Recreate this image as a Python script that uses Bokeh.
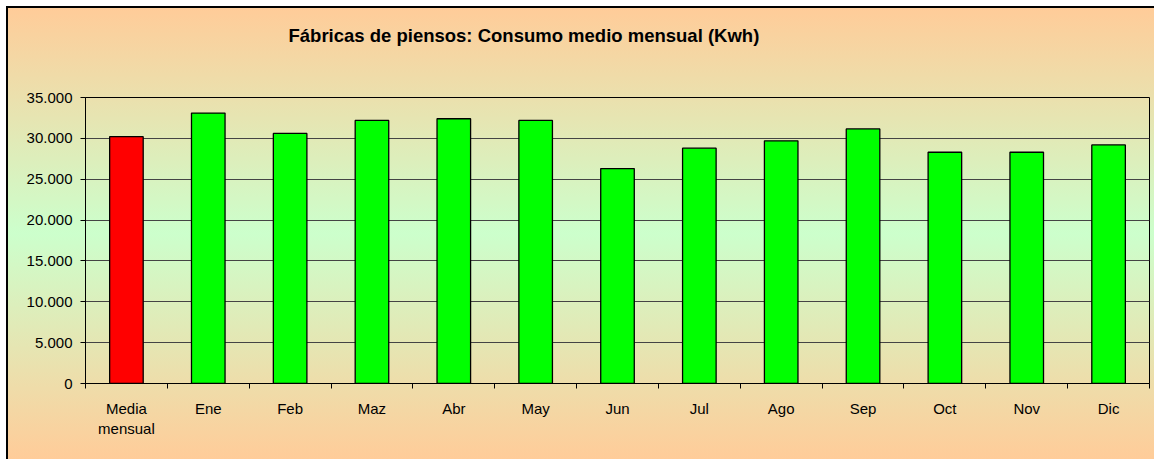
import numpy as np
from bokeh.plotting import figure
from bokeh.models import ColumnDataSource, FixedTicker, Range1d
from bokeh.embed import file_html
from bokeh.resources import INLINE

title_text = "Fábricas de piensos: Consumo medio mensual (Kwh)"
categories = ["Media\nmensual", "Ene", "Feb", "Maz", "Abr", "May", "Jun",
              "Jul", "Ago", "Sep", "Oct", "Nov", "Dic"]
values = [30200, 33100, 30600, 32200, 32400, 32200, 26300,
          28800, 29700, 31150, 28300, 28300, 29200]
bar_colors = ["#FF0000"] + ["#00FF00"] * 12
y_ticks = [0, 5000, 10000, 15000, 20000, 25000, 30000, 35000]
y_tick_labels = ["0", "5.000", "10.000", "15.000", "20.000", "25.000", "30.000", "35.000"]

n = len(categories)
xpos = [i + 0.5 for i in range(n)]
src = ColumnDataSource(dict(x=xpos, top=values, color=bar_colors, cat=categories))

FONT = "Liberation Sans"

p = figure(width=1154, height=459, output_backend="svg", toolbar_location=None,
           x_range=Range1d(0, n), y_range=Range1d(0, 35000),
           min_border_left=85, min_border_right=5, min_border_top=97, min_border_bottom=76,
           title=title_text + "\n \n ")

p.background_fill_color = None
p.border_fill_color = None
p.styles = {
    "background": (
        "linear-gradient(#000000, #000000) 6px 6px / 2px calc(100% - 6px) no-repeat, "
        "linear-gradient(#000000, #000000) 6px 6px / calc(100% - 6px) 2px no-repeat, "
        "linear-gradient(to bottom, #FFCC99 0%, #CCFFCC 50%, #FFCC99 100%) 8px 8px / calc(100% - 8px) calc(100% - 8px) no-repeat, "
        "#FFFFFF"
    ),
}
p.outline_line_color = "#000000"
p.outline_line_width = 1

# title (blank trailing lines lift the visible line towards the top)
p.title.text_font = FONT
p.title.text_font_size = "18.5px"
p.title.text_font_style = "bold"
p.title.text_color = "#000000"
p.title.align = "left"
p.title.offset = 203
p.title.standoff = 20

p.vbar(x="x", top="top", width=0.41, bottom=0, source=src, fill_color="color",
       line_color="#000000", line_width=1.3)

# grid
p.xgrid.visible = False
p.ygrid.ticker = FixedTicker(ticks=y_ticks)
p.ygrid.grid_line_color = "#444444"
p.ygrid.grid_line_width = 1

# y axis
p.yaxis.ticker = FixedTicker(ticks=y_ticks)
p.yaxis.major_label_overrides = {t: l for t, l in zip(y_ticks, y_tick_labels)}
p.yaxis.major_label_text_font = FONT
p.yaxis.major_label_text_font_size = "15px"
p.yaxis.major_label_text_color = "#000000"
p.yaxis.major_tick_out = 5
p.yaxis.major_tick_in = 0
p.yaxis.minor_tick_line_color = None
p.yaxis.axis_line_color = "#000000"
p.yaxis.major_tick_line_color = "#000000"
p.yaxis.major_label_standoff = 8

# x axis: labels at centers, ticks at boundaries
p.xaxis.ticker = FixedTicker(ticks=xpos, minor_ticks=list(range(n + 1)))
p.xaxis.major_label_overrides = {x: c for x, c in zip(xpos, categories)}
p.xaxis.major_label_text_font = FONT
p.xaxis.major_label_text_font_size = "15px"
p.xaxis.major_label_text_color = "#000000"
p.xaxis.major_tick_out = 0
p.xaxis.major_tick_in = 0
p.xaxis.minor_tick_out = 5
p.xaxis.minor_tick_in = 0
p.xaxis.minor_tick_line_color = "#000000"
p.xaxis.axis_line_color = "#000000"
p.xaxis.major_label_standoff = 11

open("out.html", "w").write(file_html(p, INLINE))
